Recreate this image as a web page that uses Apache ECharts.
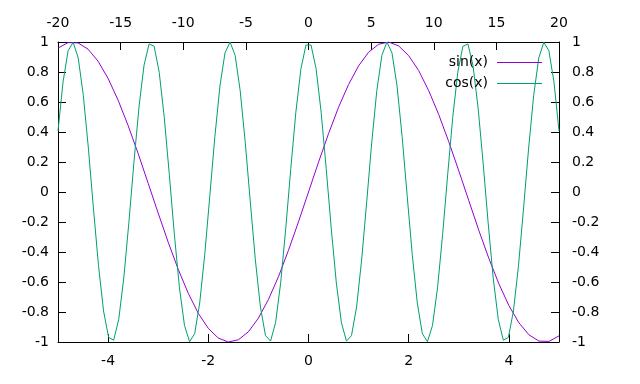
<!DOCTYPE html>
<html>
<head>
<meta charset="utf-8">
<script src="https://cdn.jsdelivr.net/npm/echarts@6/dist/echarts.min.js"></script>
<style>html,body{margin:0;padding:0;background:#fff}#c{width:640px;height:384px}</style>
</head>
<body>
<div id="c"></div>
<script>
// sin(x) sampled on x in [-5, 5] (bottom axis)
const sinX = [-5,-4.8,-4.6,-4.4,-4.2,-4,-3.8,-3.6,-3.4,-3.2,-3,-2.8,-2.6,-2.4,-2.2,-2,-1.8,-1.6,-1.4,-1.2,-1,-0.8,-0.6,-0.4,-0.2,0,
  0.2,0.4,0.6,0.8,1,1.2,1.4,1.6,1.8,2,2.2,2.4,2.6,2.8,3,3.2,3.4,3.6,3.8,4,4.2,4.4,4.6,4.8,5];
const sinY = [0.959,0.996,0.994,0.952,0.872,0.757,0.612,0.443,0.256,0.058,-0.141,-0.335,-0.516,-0.675,-0.809,-0.909,-0.974,-1.000,-0.985,-0.932,-0.841,-0.717,-0.565,-0.389,-0.199,0,
  0.199,0.389,0.565,0.717,0.841,0.932,0.985,1.000,0.974,0.909,0.809,0.675,0.516,0.335,0.141,-0.058,-0.256,-0.443,-0.612,-0.757,-0.872,-0.952,-0.994,-0.996,-0.959];
// cos(x) sampled at 100 points on x in [-20, 20] (top axis)
const cosX = [-20,-19.596,-19.192,-18.788,-18.384,-17.980,-17.576,-17.172,-16.768,-16.364,-15.960,-15.556,-15.152,-14.747,-14.343,-13.939,-13.535,-13.131,-12.727,-12.323,
  -11.919,-11.515,-11.111,-10.707,-10.303,-9.899,-9.495,-9.091,-8.687,-8.283,-7.879,-7.475,-7.071,-6.667,-6.263,-5.859,-5.455,-5.051,-4.646,-4.242,
  -3.838,-3.434,-3.030,-2.626,-2.222,-1.818,-1.414,-1.010,-0.606,-0.202,0.202,0.606,1.010,1.414,1.818,2.222,2.626,3.030,3.434,3.838,
  4.242,4.646,5.051,5.455,5.859,6.263,6.667,7.071,7.475,7.879,8.283,8.687,9.091,9.495,9.899,10.303,10.707,11.111,11.515,11.919,
  12.323,12.727,13.131,13.535,13.939,14.343,14.747,15.152,15.556,15.960,16.364,16.768,17.172,17.576,17.980,18.384,18.788,19.192,19.596,20];
const cosY = [0.408,0.734,0.942,0.998,0.893,0.645,0.293,-0.107,-0.489,-0.793,-0.969,-0.988,-0.849,-0.573,-0.205,0.197,0.566,0.845,0.987,0.971,
  0.798,0.497,0.115,-0.285,-0.639,-0.890,-0.998,-0.945,-0.740,-0.416,-0.025,0.370,0.706,0.927,1.000,0.911,0.676,0.332,-0.066,-0.453,
  -0.767,-0.957,-0.994,-0.870,-0.606,-0.245,0.156,0.532,0.822,0.980,0.980,0.822,0.532,0.156,-0.245,-0.606,-0.870,-0.994,-0.957,-0.767,
  -0.453,-0.066,0.332,0.676,0.911,1.000,0.927,0.706,0.370,-0.025,-0.416,-0.740,-0.945,-0.998,-0.890,-0.639,-0.285,0.115,0.497,0.798,
  0.971,0.987,0.845,0.566,0.197,-0.205,-0.573,-0.849,-0.988,-0.969,-0.793,-0.489,-0.107,0.293,0.645,0.893,0.998,0.942,0.734,0.408];
const bottomTicks = [-4,-2,0,2,4];
const seriesNames = ['sin(x)','cos(x)'];
const colors = ['#9400d3','#009e73'];

const zip = (a,b)=>a.map((v,i)=>[v,b[i]]);
const font = 'DejaVu Sans';
const lineCol = '#000';
const fmtY = v => { const r = Math.round(v*10)/10; return (Object.is(r,-0)?0:r).toString(); };

const chart = echarts.init(document.getElementById('c'), null, {renderer:'canvas'});
chart.setOption({
  animation:false,
  backgroundColor:'#fff',
  textStyle:{fontFamily:font},
  grid:{left:58,right:81,top:42,bottom:42,containLabel:false},
  legend:{
    data:seriesNames, orient:'vertical', right:93, top:49, align:'right',
    icon:'rect', itemWidth:45, itemHeight:1.2, itemGap:4,
    textStyle:{fontFamily:font,fontSize:14,color:'#000',padding:[0,4,0,0],lineHeight:17},
    selectedMode:false
  },
  xAxis:[
    {type:'value',position:'bottom',min:-5,max:5,
     axisLine:{show:true,onZero:false,lineStyle:{color:lineCol,width:1}},
     axisTick:{show:true,inside:true,length:8,customValues:bottomTicks,lineStyle:{color:lineCol}},
     axisLabel:{customValues:bottomTicks,margin:12,fontSize:14,color:'#000',fontFamily:font},
     splitLine:{show:false}},
    {type:'value',position:'top',min:-20,max:20,interval:5,
     axisLine:{show:true,onZero:false,lineStyle:{color:lineCol,width:1}},
     axisTick:{show:true,inside:true,length:8,lineStyle:{color:lineCol}},
     axisLabel:{margin:12,fontSize:14,color:'#000',fontFamily:font,showMinLabel:true,showMaxLabel:true},
     splitLine:{show:false}}
  ],
  yAxis:[
    {type:'value',position:'left',min:-1,max:1,interval:0.2,
     axisLine:{show:true,onZero:false,lineStyle:{color:lineCol,width:1}},
     axisTick:{show:true,inside:true,length:8,lineStyle:{color:lineCol}},
     axisLabel:{margin:9,fontSize:14,color:'#000',fontFamily:font,formatter:fmtY},
     splitLine:{show:false}},
    {type:'value',position:'right',min:-1,max:1,interval:0.2,
     axisLine:{show:true,onZero:false,lineStyle:{color:lineCol,width:1}},
     axisTick:{show:true,inside:true,length:8,lineStyle:{color:lineCol}},
     axisLabel:{margin:13,fontSize:14,color:'#000',fontFamily:font,formatter:fmtY},
     splitLine:{show:false}}
  ],
  series:[
    {name:seriesNames[0],type:'line',xAxisIndex:0,yAxisIndex:0,data:zip(sinX,sinY),
     symbol:'none',showSymbol:false,color:colors[0],lineStyle:{color:colors[0],width:1},z:2},
    {name:seriesNames[1],type:'line',xAxisIndex:1,yAxisIndex:0,data:zip(cosX,cosY),
     symbol:'none',showSymbol:false,color:colors[1],lineStyle:{color:colors[1],width:1},z:3}
  ]
});
</script>
</body>
</html>
